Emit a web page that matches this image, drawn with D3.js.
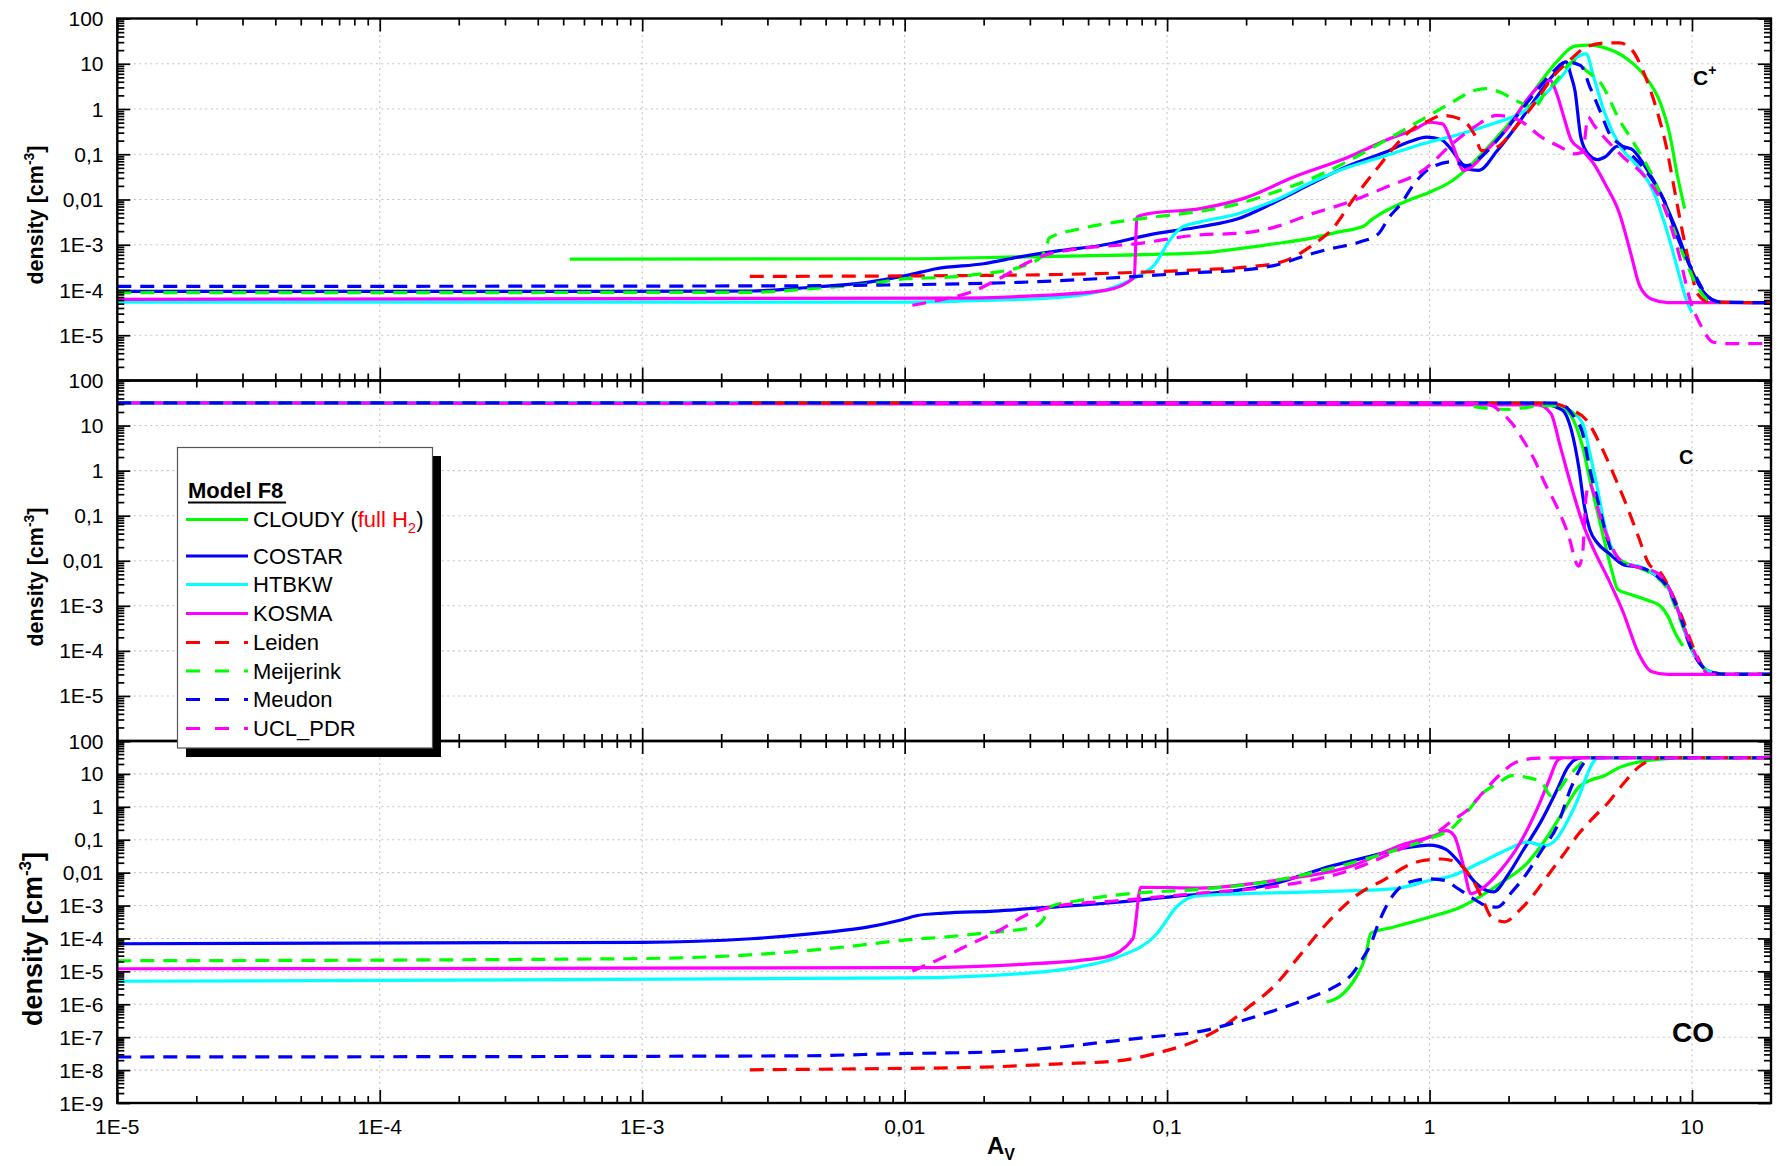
<!DOCTYPE html>
<html><head><meta charset="utf-8">
<script src="https://cdn.jsdelivr.net/npm/d3@7"></script>
<style>
html,body{margin:0;padding:0;background:#fff;}
svg{display:block;font-family:"Liberation Sans",Arial,Helvetica,sans-serif;}
</style></head><body>
<svg id="chart" width="1782" height="1166"></svg>
<script>
// ---------------- DATA ----------------
const models = ["CLOUDY","COSTAR","HTBKW","KOSMA","Leiden","Meijerink","Meudon","UCL_PDR"];
const species = ["C+","C","CO"];
const xTickValues = [1e-5,1e-4,1e-3,1e-2,1e-1,1,10];
const xTickLabels = ["1E-5","1E-4","1E-3","0,01","0,1","1","10"];
const yTickValuesA = [100,10,1,0.1,0.01,1e-3,1e-4,1e-5];
const yTickLabelsA = ["100","10","1","0,1","0,01","1E-3","1E-4","1E-5"];
const yTickValuesCO = [100,10,1,0.1,0.01,1e-3,1e-4,1e-5,1e-6,1e-7,1e-8,1e-9];
const yTickLabelsCO = ["100","10","1","0,1","0,01","1E-3","1E-4","1E-5","1E-6","1E-7","1E-8","1E-9"];

// C+ panel  [A_V, density]
const cpCLOUDY = [[5.3e-4,4.8e-4],[0.01,4.9e-4],[0.0275,5.4e-4],[0.134,6.6e-4],[0.185,8.1e-4],[0.257,1.05e-3],[0.355,1.4e-3],[0.447,1.9e-3],[0.562,2.6e-3],[0.598,3.5e-3],[0.638,4.5e-3],[0.828,9.5e-3],[1.0,0.0145],[1.22,0.026],[1.39,0.048],[1.58,0.102],[1.81,0.24],[2.13,0.72],[2.51,2.57],[3.05,11.0],[3.58,24.5],[4.08,25.7],[4.66,22.4],[5.65,12.9],[6.65,5.1],[7.59,1.32],[8.22,0.28],[8.77,0.037],[9.38,6.3e-3]];
const cpCOSTAR = [[1e-5,9.3e-5],[6.9e-4,9.3e-5],[2.6e-3,9.5e-5],[4.4e-3,1.15e-4],[7.2e-3,1.48e-4],[0.0102,2.1e-4],[0.0132,2.95e-4],[0.02,3.8e-4],[0.0275,5.4e-4],[0.0389,7.4e-4],[0.055,9.5e-4],[0.0891,1.74e-3],[0.134,2.5e-3],[0.185,3.7e-3],[0.257,8.7e-3],[0.355,0.0224],[0.492,0.056],[0.681,0.112],[0.832,0.186],[0.977,0.24],[1.11,0.209],[1.22,0.12],[1.31,0.068],[1.39,0.048],[1.54,0.044],[1.81,0.12],[2.13,0.40],[2.51,1.55],[2.95,5.5],[3.31,11.0],[3.47,5.1],[3.58,2.57],[3.77,0.24],[4.02,0.102],[4.37,0.076],[4.66,0.087],[5.21,0.151],[5.85,0.132],[6.65,0.052],[7.59,0.0135],[8.63,2.45e-3],[9.84,3.2e-4],[11.2,8.3e-5],[12.8,5.4e-5],[20,5.25e-5]];
const cpHTBKW = [[1e-5,5.4e-5],[0.0102,5.4e-5],[0.02,5.9e-5],[0.0389,6.9e-5],[0.0582,1.0e-4],[0.0759,1.9e-4],[0.0902,3.8e-4],[0.102,1.23e-3],[0.114,2.45e-3],[0.134,3.2e-3],[0.185,4.8e-3],[0.257,9.5e-3],[0.355,0.024],[0.492,0.052],[0.681,0.093],[0.944,0.17],[1.31,0.28],[1.81,0.51],[2.20,0.78],[2.67,1.82],[3.25,6.0],[3.58,12.9],[3.95,16.6],[4.22,5.1],[4.66,0.78],[5.30,0.155],[6.24,0.052],[7.10,0.0158],[8.09,1.74e-3],[8.91,2.3e-4],[9.53,5.9e-5],[10,3.2e-5]];
const cpKOSMA = [[1e-5,6.2e-5],[0.0141,6.6e-5],[0.0275,7.2e-5],[0.0582,9.8e-5],[0.075,1.9e-4],[0.0767,4.1e-3],[0.0841,4.8e-3],[0.134,6.3e-3],[0.2,0.011],[0.302,0.031],[0.492,0.087],[0.681,0.204],[0.883,0.363],[1.0,0.51],[1.12,0.47],[1.22,0.17],[1.35,0.044],[1.44,0.052],[1.70,0.145],[2.0,0.40],[2.34,1.55],[2.67,3.6],[2.88,4.3],[3.05,2.2],[3.25,0.66],[3.47,0.204],[3.83,0.12],[4.22,0.062],[4.66,0.0224],[5.30,4.8e-3],[5.85,6.3e-4],[6.31,1.26e-4],[7.0,6.3e-5],[8.09,5.25e-5],[20,5.25e-5]];
const cpLeiden = [[2.57e-3,2.0e-4],[0.0102,2.05e-4],[0.0389,2.2e-4],[0.0759,2.45e-4],[0.134,2.8e-4],[0.2,3.2e-4],[0.274,4.2e-4],[0.355,9.5e-4],[0.432,2.45e-3],[0.508,9.5e-3],[0.579,0.026],[0.638,0.052],[0.752,0.17],[0.883,0.40],[1.0,0.56],[1.11,0.72],[1.31,0.60],[1.48,0.28],[1.58,0.12],[1.81,0.145],[2.13,0.40],[2.51,1.32],[2.95,5.1],[3.47,12.9],[3.95,23.4],[4.66,28.8],[5.30,28.8],[5.93,19.5],[6.65,5.1],[7.35,0.93],[7.94,0.17],[8.63,0.0135],[9.23,1.74e-3],[9.84,3.2e-4],[10.5,8.3e-5],[11.6,5.4e-5],[20,5.25e-5]];
const cpMeijerink = [[1e-5,8.7e-5],[2.6e-3,8.9e-5],[5.1e-3,1.15e-4],[7.2e-3,1.35e-4],[0.0102,1.78e-4],[0.0141,1.9e-4],[0.02,2.3e-4],[0.0275,3.2e-4],[0.0331,5.4e-4],[0.0347,8.9e-4],[0.0355,1.4e-3],[0.0457,2.2e-3],[0.0646,3.2e-3],[0.0891,4.1e-3],[0.134,5.5e-3],[0.185,7.9e-3],[0.257,0.0145],[0.355,0.029],[0.492,0.072],[0.681,0.204],[0.944,0.60],[1.22,1.41],[1.48,2.57],[1.64,2.82],[1.86,2.34],[2.13,1.55],[2.51,1.1],[2.75,2.2],[3.05,4.3],[3.36,9.1],[3.58,11.7],[3.95,7.1],[4.51,3.6],[5.30,0.56],[6.03,0.17],[7.10,0.031],[8.09,4.8e-3],[9.23,6.3e-4],[10.2,1.62e-4],[11.6,5.9e-5],[12.8,5.25e-5]];
const cpMeudon = [[1e-5,1.2e-4],[2.6e-3,1.23e-4],[8.5e-3,1.29e-4],[0.0141,1.35e-4],[0.0275,1.48e-4],[0.055,1.78e-4],[0.134,2.45e-4],[0.185,2.7e-4],[0.257,3.5e-4],[0.355,6.3e-4],[0.417,8.1e-4],[0.542,1.15e-3],[0.638,1.74e-3],[0.703,4.1e-3],[0.776,7.9e-3],[0.883,0.024],[1.0,0.048],[1.22,0.068],[1.39,0.056],[1.54,0.079],[1.81,0.204],[2.13,0.66],[2.51,2.2],[2.95,6.6],[3.31,11.0],[3.77,9.1],[4.08,3.1],[4.51,0.78],[4.81,0.31],[5.47,0.145],[6.65,0.044],[7.83,9.5e-3],[8.91,1.23e-3],[10.2,2.3e-4],[11.6,6.9e-5],[12.8,5.4e-5],[20,5.25e-5]];
const cpUCL_PDR = [[0.0107,4.6e-5],[0.0141,6.3e-5],[0.0178,8.9e-5],[0.0229,1.78e-4],[0.0288,3.8e-4],[0.0339,5.75e-4],[0.0457,8.1e-4],[0.0759,1.05e-3],[0.134,1.66e-3],[0.185,1.78e-3],[0.257,2.45e-3],[0.355,4.8e-3],[0.492,8.7e-3],[0.681,0.0186],[0.944,0.044],[1.22,0.17],[1.48,0.40],[1.81,0.72],[2.20,0.56],[2.67,0.24],[3.15,0.145],[3.58,0.102],[3.83,0.112],[4.02,0.66],[4.22,0.447],[4.51,0.28],[5.47,0.087],[6.65,0.031],[7.83,6.8e-3],[8.91,6.3e-4],[9.84,5.9e-5],[10.9,1.5e-5],[12.0,7.1e-6],[13.6,6.5e-6],[20,6.6e-6]];

// C panel
const cCLOUDY = [[5.3e-4,32],[2.85,31],[3.31,22.4],[3.58,11.2],[3.83,3.4],[4.08,0.63],[4.37,0.115],[4.66,0.0245],[4.97,5.4e-3],[5.21,2.3e-3],[5.85,1.78e-3],[6.65,1.38e-3],[7.59,9.8e-4],[8.09,5.9e-4],[8.63,2.5e-4],[9.23,1.29e-4]];
const cCOSTAR = [[1e-5,32],[2.59,31.6],[3.20,22.4],[3.47,7.9],[3.70,1.23],[3.89,0.162],[4.08,0.049],[4.37,0.0245],[4.81,0.0148],[5.47,8.3e-3],[6.44,6.9e-3],[7.35,4.6e-3],[8.09,2.75e-3],[8.91,7.1e-4],[9.84,1.29e-4],[10.9,4.6e-5],[12.0,3.3e-5],[13.6,3.0e-5],[20,3.0e-5]];
const cHTBKW = [[1e-5,32],[2.85,31.6],[3.47,20.4],[3.83,11.2],[4.08,2.45],[4.37,0.38],[4.66,0.058],[4.97,0.0178],[5.47,8.9e-3],[6.24,7.6e-3],[7.35,4.6e-3],[8.09,2.5e-3],[8.91,7.1e-4],[9.84,1.29e-4],[10.9,4.6e-5],[12.0,3.3e-5],[13.6,3.0e-5],[20,3.0e-5]];
const cKOSMA = [[1e-5,32],[2.59,28.8],[2.90,18.6],[3.15,3.4],[3.47,0.447],[3.83,0.069],[4.22,0.0178],[4.81,3.8e-3],[5.47,7.1e-4],[6.24,9.1e-5],[7.0,3.5e-5],[8.09,3.0e-5],[20,3.0e-5]];
const cLeiden = [[2.57e-3,32],[2.85,31.6],[3.47,22.4],[3.95,13.5],[4.51,3.4],[5.13,0.63],[5.65,0.162],[6.24,0.035],[6.87,8.3e-3],[7.59,5.4e-3],[8.36,1.95e-3],[9.23,5.0e-4],[10.2,1.07e-4],[11.2,4.0e-5],[12.8,3.0e-5],[20,3.0e-5]];
const cMeijerink = [[1e-5,32],[1.31,32],[1.48,26.3],[2.0,22.9],[2.34,25.1],[2.67,27.5],[3.05,27.5],[3.47,20.4],[3.83,6.8],[4.08,1.23],[4.29,0.27],[4.51,0.081],[4.81,0.0245],[5.30,0.0107],[6.03,7.6e-3],[7.10,4.9e-3],[8.09,2.3e-3],[8.91,5.9e-4],[9.84,1.29e-4],[10.9,4.6e-5],[12.0,3.3e-5],[13.6,3.0e-5],[20,3.0e-5]];
const cMeudon = [[1e-5,32],[3.05,31.6],[3.25,28.2],[3.58,14.5],[3.83,6.8],[4.08,1.05],[4.37,0.224],[4.66,0.049],[4.97,0.0148],[5.47,8.3e-3],[6.44,6.9e-3],[7.35,4.6e-3],[8.09,2.5e-3],[8.91,7.1e-4],[9.84,1.29e-4],[10.9,4.6e-5],[12.0,3.3e-5],[13.6,3.0e-5],[20,3.0e-5]];
const cUCL_PDR = [[0.0107,32],[1.31,32],[1.70,28.8],[1.86,20.4],[2.06,11.2],[2.27,4.8],[2.51,1.74],[2.75,0.525],[3.05,0.162],[3.36,0.042],[3.70,7.6e-3],[3.83,0.0148],[3.95,0.27],[4.08,0.525],[4.22,0.316],[4.51,0.081],[4.81,0.0295],[5.30,0.0107],[6.03,7.6e-3],[7.35,5.4e-3],[8.09,2.75e-3],[8.91,7.1e-4],[9.84,1.5e-4],[10.7,5.5e-5],[11.6,3.0e-5],[20,3.0e-5]];

// CO panel
const coCLOUDY = [[0.405,1.17e-6],[0.46,1.86e-6],[0.525,6.8e-6],[0.569,2.7e-5],[0.598,1.45e-4],[0.726,2.2e-4],[1.0,4.5e-4],[1.31,8.9e-4],[1.58,2.0e-3],[1.93,5.75e-3],[2.34,0.0186],[2.75,0.095],[3.25,0.78],[3.70,4.0],[4.08,6.3],[4.66,8.9],[5.30,15.8],[6.44,24],[7.59,28.2],[10,31],[20,31]];
const coCOSTAR = [[1e-5,6.9e-5],[1e-3,7.6e-5],[2.6e-3,9.8e-5],[5.1e-3,1.55e-4],[7.2e-3,2.2e-4],[9.5e-3,3.5e-4],[0.0112,5.0e-4],[0.0141,5.9e-4],[0.0219,6.8e-4],[0.0389,9.3e-4],[0.0646,1.26e-3],[0.107,1.9e-3],[0.185,2.9e-3],[0.257,4.6e-3],[0.389,0.0132],[0.578,0.0295],[0.802,0.056],[1.0,0.069],[1.15,0.052],[1.31,0.0186],[1.49,5.1e-3],[1.64,2.9e-3],[1.75,2.6e-3],[2.0,9.1e-3],[2.27,0.047],[2.67,0.38],[3.05,3.1],[3.36,15.8],[3.58,26.9],[3.83,31],[20,31]];
const coHTBKW = [[1e-5,5.0e-6],[0.0102,6.3e-6],[0.0275,8.5e-6],[0.0457,1.35e-5],[0.0646,2.7e-5],[0.0902,1.23e-4],[0.11,1.0e-3],[0.123,1.78e-3],[0.134,2.0e-3],[0.355,2.6e-3],[0.726,3.2e-3],[1.0,5.75e-3],[1.22,8.1e-3],[1.58,0.021],[2.0,0.052],[2.34,0.085],[2.75,0.066],[3.05,0.107],[3.36,0.38],[3.70,1.95],[3.95,7.9],[4.22,24],[4.42,31],[20,31]];
const coKOSMA = [[1e-5,1.2e-5],[0.0102,1.29e-5],[0.0275,1.62e-5],[0.0582,2.7e-5],[0.0741,9.8e-5],[0.0794,3.6e-3],[0.134,3.4e-3],[0.257,5.75e-3],[0.492,0.0148],[0.802,0.074],[1.07,0.145],[1.16,0.19],[1.24,0.135],[1.33,0.0234],[1.44,2.3e-3],[1.58,3.2e-3],[1.86,0.0115],[2.20,0.074],[2.59,1.0],[2.85,6.3],[3.09,26.9],[3.25,31],[20,31]];
const coLeiden = [[2.57e-3,1.02e-8],[7.2e-3,1.1e-8],[0.02,1.23e-8],[0.0389,1.55e-8],[0.0646,1.9e-8],[0.0902,3.2e-8],[0.134,8.9e-8],[0.162,2.0e-7],[0.204,8.1e-7],[0.257,3.7e-6],[0.324,3.4e-5],[0.405,2.8e-4],[0.525,2.0e-3],[0.681,6.5e-3],[0.828,0.0166],[0.944,0.0234],[1.11,0.026],[1.26,0.021],[1.44,7.2e-3],[1.58,1.8e-3],[1.72,4.5e-4],[1.93,3.2e-4],[2.20,7.1e-4],[2.51,2.3e-3],[2.85,9.1e-3],[3.25,0.037],[3.70,0.151],[4.22,0.48],[4.81,1.38],[5.47,5.0],[6.24,15.8],[7.10,28.2],[7.59,31],[20,31]];
const coMeijerink = [[1e-5,2.1e-5],[7.6e-4,2.4e-5],[1.9e-3,2.8e-5],[3.7e-3,3.9e-5],[6.2e-3,5.75e-5],[0.0102,9.1e-5],[0.0141,1.1e-4],[0.02,1.45e-4],[0.0309,2.2e-4],[0.0339,4.0e-4],[0.0355,8.9e-4],[0.0457,1.4e-3],[0.0759,2.4e-3],[0.126,3.0e-3],[0.257,5.75e-3],[0.492,0.0186],[0.802,0.059],[1.0,0.107],[1.22,0.23],[1.39,0.69],[1.58,2.45],[1.81,5.0],[2.06,8.9],[2.34,7.9],[2.67,5.6],[2.90,2.2],[3.05,2.75],[3.36,7.9],[3.70,17.8],[3.95,28.8],[4.17,31],[20,31]];
const coMeudon = [[1e-5,2.5e-8],[3.7e-3,2.7e-8],[0.0102,3.2e-8],[0.02,3.5e-8],[0.0389,5.0e-8],[0.0646,7.9e-8],[0.0902,1.05e-7],[0.134,1.5e-7],[0.185,2.9e-7],[0.257,6.5e-7],[0.355,1.66e-6],[0.432,3.3e-6],[0.508,8.5e-6],[0.56,2.7e-5],[0.598,6.9e-5],[0.638,2.8e-4],[0.681,8.9e-4],[0.752,2.9e-3],[0.883,5.75e-3],[1.0,6.5e-3],[1.15,5.75e-3],[1.26,3.6e-3],[1.44,1.8e-3],[1.64,1.0e-3],[1.81,8.9e-4],[2.06,2.6e-3],[2.34,9.1e-3],[2.67,0.047],[3.05,0.24],[3.47,4.0],[3.95,25],[4.22,31],[20,31]];
const coUCL_PDR = [[0.0107,1.02e-5],[0.0141,2.7e-5],[0.0174,6.2e-5],[0.0229,1.74e-4],[0.0288,5.0e-4],[0.0389,1.0e-3],[0.0646,1.4e-3],[0.134,2.4e-3],[0.257,3.8e-3],[0.492,0.0115],[0.802,0.059],[1.07,0.17],[1.22,0.38],[1.39,0.78],[1.58,2.45],[1.81,7.9],[2.13,22.4],[2.51,29.5],[3.05,31],[20,31]];

// ---------------- LAYOUT / STYLE ----------------
const X0 = 117.3, X1 = 1771;
const geo = [{t:18.5,b:380.5,dom:[1e-6,100]},{t:380.5,b:741,dom:[1e-6,100]},{t:741,b:1103,dom:[1e-9,100]}];
const colorOf = {CLOUDY:"#00ff00",COSTAR:"#0000ff",HTBKW:"#00ffff",KOSMA:"#ff00ff",Leiden:"#ff0000",Meijerink:"#00ff00",Meudon:"#0000ff",UCL_PDR:"#ff00ff"};
const isDashed = {CLOUDY:false,COSTAR:false,HTBKW:false,KOSMA:false,Leiden:true,Meijerink:true,Meudon:true,UCL_PDR:true};
const DASH = "14,9";

const panelData = [
  [cpCLOUDY,cpCOSTAR,cpHTBKW,cpKOSMA,cpLeiden,cpMeijerink,cpMeudon,cpUCL_PDR],
  [cCLOUDY,cCOSTAR,cHTBKW,cKOSMA,cLeiden,cMeijerink,cMeudon,cUCL_PDR],
  [coCLOUDY,coCOSTAR,coHTBKW,coKOSMA,coLeiden,coMeijerink,coMeudon,coUCL_PDR]
];

const svg = d3.select("#chart");
svg.append("rect").attr("width",1782).attr("height",1166).attr("fill","#fff");
const x = d3.scaleLog().domain([1e-5,20]).range([X0,X1]);

function minors(lo,hi){
  const out=[];
  for(let e=Math.floor(Math.log10(lo)-1e-9); e<Math.ceil(Math.log10(hi)); e++){
    for(let k=2;k<=9;k++){const v=k*Math.pow(10,e); if(v>lo*1.0001 && v<hi*0.9999) out.push(v);}
  }
  return out;
}
const xMinors = minors(1e-5,20);

const defs = svg.append("defs");
geo.forEach((g,i)=>{
  defs.append("clipPath").attr("id","clip"+i).append("rect")
    .attr("x",X0).attr("y",g.t).attr("width",X1-X0).attr("height",g.b-g.t);
});

function styleAxis(sel){
  sel.select(".domain").remove();
  sel.selectAll("line").attr("stroke","#000").attr("stroke-width",1.7);
  sel.selectAll("text").remove();
}

geo.forEach((g,i)=>{
  const y = d3.scaleLog().domain(g.dom).range([g.b,g.t]);
  const yMaj = (i===2?yTickValuesCO:yTickValuesA).concat(i===2?[]:[1e-6]);
  const yLab = i===2?yTickLabelsCO:yTickLabelsA;
  const yVals = i===2?yTickValuesCO:yTickValuesA;
  const yMin = minors(g.dom[0],g.dom[1]);
  const gp = svg.append("g");

  // grid
  const grid = gp.append("g").attr("stroke","#c4c4c4").attr("stroke-width",1.1).attr("stroke-dasharray","2,3.5");
  xTickValues.slice(1).forEach(v=>{
    grid.append("line").attr("x1",x(v)).attr("x2",x(v)).attr("y1",g.t).attr("y2",g.b);
  });
  yVals.forEach(v=>{
    if(v<g.dom[1] && v>g.dom[0]) grid.append("line").attr("x1",X0).attr("x2",X1).attr("y1",y(v)).attr("y2",y(v));
  });

  // data
  const line = d3.line().x(d=>x(d[0])).y(d=>y(d[1])).curve(d3.curveMonotoneX);
  const dg = gp.append("g").attr("clip-path","url(#clip"+i+")");
  models.forEach((m,j)=>{
    dg.append("path").datum(panelData[i][j])
      .attr("d",line).attr("fill","none")
      .attr("stroke",colorOf[m]).attr("stroke-width",3.2)
      .attr("stroke-linejoin","round")
      .attr("stroke-dasharray",isDashed[m]?DASH:null);
  });

  // axes (inward ticks)
  const ax = gp.append("g");
  ax.append("g").attr("transform",`translate(0,${g.t})`).call(d3.axisBottom(x).tickValues(xTickValues).tickSize(13)).call(styleAxis);
  ax.append("g").attr("transform",`translate(0,${g.t})`).call(d3.axisBottom(x).tickValues(xMinors).tickSize(7)).call(styleAxis);
  ax.append("g").attr("transform",`translate(0,${g.b})`).call(d3.axisTop(x).tickValues(xTickValues).tickSize(13)).call(styleAxis);
  ax.append("g").attr("transform",`translate(0,${g.b})`).call(d3.axisTop(x).tickValues(xMinors).tickSize(7)).call(styleAxis);
  ax.append("g").attr("transform",`translate(${X0},0)`).call(d3.axisRight(y).tickValues(yMaj).tickSize(13)).call(styleAxis);
  ax.append("g").attr("transform",`translate(${X0},0)`).call(d3.axisRight(y).tickValues(yMin).tickSize(7)).call(styleAxis);
  ax.append("g").attr("transform",`translate(${X1},0)`).call(d3.axisLeft(y).tickValues(yMaj).tickSize(13)).call(styleAxis);
  ax.append("g").attr("transform",`translate(${X1},0)`).call(d3.axisLeft(y).tickValues(yMin).tickSize(7)).call(styleAxis);
  ax.append("rect").attr("x",X0).attr("y",g.t).attr("width",X1-X0).attr("height",g.b-g.t)
    .attr("fill","none").attr("stroke","#000").attr("stroke-width",2.4);

  // y labels
  yVals.forEach((v,k)=>{
    gp.append("text").attr("x",103.5).attr("y",y(v)).attr("dy","0.36em")
      .attr("text-anchor","end").attr("font-size",21).attr("fill","#000").text(yLab[k]);
  });

  // y title
  const big = i===2;
  const cy = [215,577,939][i];
  const tt = gp.append("text").attr("transform",`translate(${big?42:43},${cy}) rotate(-90)`)
    .attr("text-anchor","middle").attr("font-weight","bold").attr("font-size",big?27:21.5).attr("fill","#000");
  tt.append("tspan").text("density [cm");
  tt.append("tspan").attr("dy",big?-11:-9).attr("font-size",big?17:14).text("-3");
  tt.append("tspan").attr("dy",big?11:9).text("]");
});

// species labels
const sp1 = svg.append("text").attr("x",1693).attr("y",85).attr("font-weight","bold").attr("font-size",21).attr("fill","#000");
sp1.append("tspan").text("C");
sp1.append("tspan").attr("dy",-10).attr("font-size",14).text("+");
svg.append("text").attr("x",1679).attr("y",464).attr("font-weight","bold").attr("font-size",20).attr("fill","#000").text(species[1]);
svg.append("text").attr("x",1672).attr("y",1042).attr("font-weight","bold").attr("font-size",28).attr("fill","#000").text(species[2]);

// x labels
xTickValues.forEach((v,k)=>{
  svg.append("text").attr("x",x(v)).attr("y",1134).attr("text-anchor","middle")
    .attr("font-size",21).attr("fill","#000").text(xTickLabels[k]);
});
const xt = svg.append("text").attr("x",987).attr("y",1154).attr("font-weight","bold").attr("font-size",24).attr("fill","#000");
xt.append("tspan").text("A");
xt.append("tspan").attr("dy",6).attr("font-size",16).text("V");

// legend
const lg = svg.append("g");
lg.append("rect").attr("x",186).attr("y",456).attr("width",255).attr("height",301).attr("fill","#000");
lg.append("rect").attr("x",177.5).attr("y",447.5).attr("width",255).attr("height",300.5).attr("fill","#fff").attr("stroke","#555").attr("stroke-width",1.2);
lg.append("text").attr("x",188).attr("y",498).attr("font-weight","bold").attr("font-size",22).attr("fill","#000").text("Model F8");
lg.append("line").attr("x1",188).attr("x2",286).attr("y1",502.5).attr("y2",502.5).attr("stroke","#000").attr("stroke-width",2);
const rowY = [519.5,556,584.5,613.5,642.5,671,699.5,728.5];
models.forEach((m,j)=>{
  lg.append("line").attr("x1",186).attr("x2",248).attr("y1",rowY[j]).attr("y2",rowY[j])
    .attr("stroke",colorOf[m]).attr("stroke-width",3.2)
    .attr("stroke-dasharray",isDashed[m]?"14,15":null);
  const t = lg.append("text").attr("x",253).attr("y",rowY[j]).attr("dy","0.36em").attr("font-size",22).attr("fill","#000");
  if(m==="CLOUDY"){
    t.append("tspan").text("CLOUDY (");
    t.append("tspan").attr("fill","#ff0000").text("full H");
    t.append("tspan").attr("fill","#ff0000").attr("font-size",15).attr("dy",6).text("2");
    t.append("tspan").attr("dy",-6).text(")");
  } else {
    t.text(m);
  }
});
</script>
</body></html>
